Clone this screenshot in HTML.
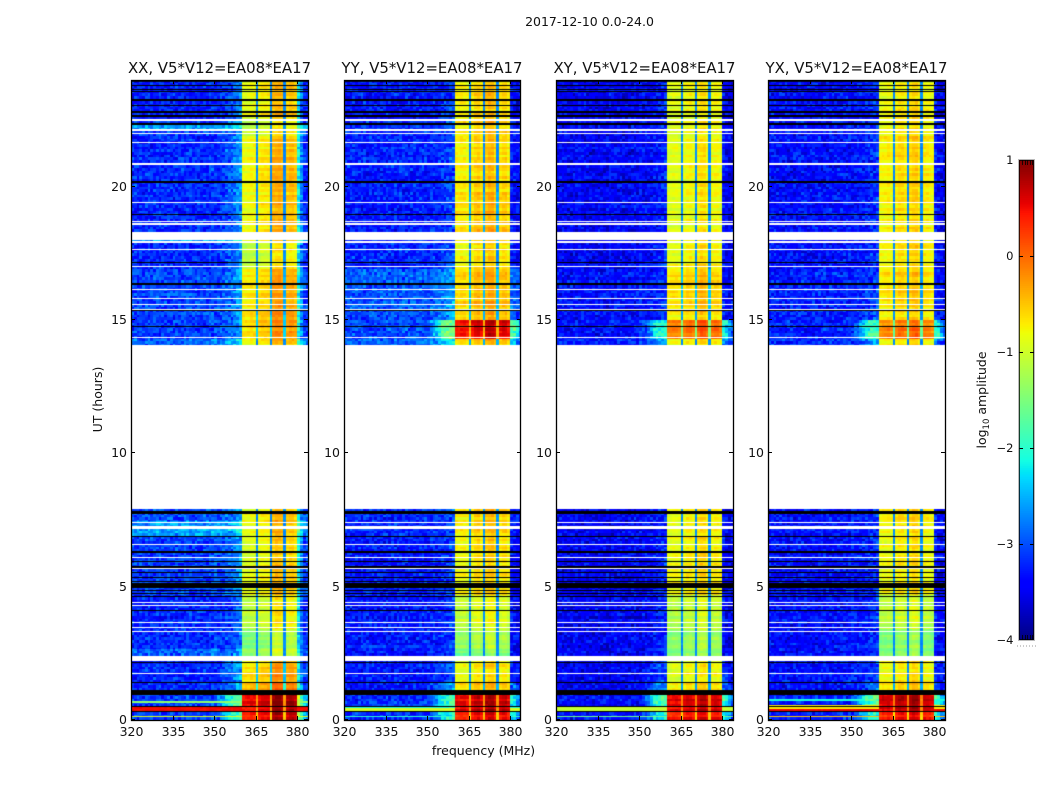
<!DOCTYPE html>
<html lang="en">
<head>
<meta charset="utf-8">
<title>2017-12-10 amplitude waterfall</title>
<style>
html,body{margin:0;padding:0;background:#fff;width:1050px;height:800px;overflow:hidden}
#figure{position:relative;width:1050px;height:800px;background:#fff}
canvas{position:absolute;display:block}
svg{position:absolute;left:0;top:0}
text{font-family:"DejaVu Sans","Liberation Sans",sans-serif;fill:#111}
</style>
</head>
<body>
<div id="figure">
<svg id="overlay" width="1050" height="800"></svg>
</div>
<script>
// ---------- chart data ----------
const panelTitles = ["XX, V5*V12=EA08*EA17","YY, V5*V12=EA08*EA17","XY, V5*V12=EA08*EA17","YX, V5*V12=EA08*EA17"];
const freqTicks = [320,335,350,365,380];
const hourTicks = [0,5,10,15,20];
const colorbarTicks = [1,0,-1,-2,-3,-4];

// log10 amplitude per 1 MHz channel, 320..383 MHz
const baselineXX = [-3.2,-3.2,-3.22,-3.2,-3.2,-3.22,-3.2,-3.2,-3.22,-3.2,-3.2,-3.22,-3.2,-3.2,-3.22,-3.2,-3.2,-3.22,-3.2,-3.2,-3.2,-3.2,-3.2,-3.2,-3.2,-3.18,-3.18,-3.18,-3.18,-3.15,-3.15,-3.15,-3.15,-3.12,-3.1,-3.1,-3.08,-3.0,-2.9,-2.8,-0.85,-0.85,-0.85,-0.8,-0.8,-2.7,-0.75,-0.7,-0.7,-0.7,-2.7,-0.4,-0.35,-0.35,-0.4,-2.7,-0.5,-0.45,-0.45,-0.55,-2.3,-2.9,-3.2,-3.25];
const baselineYY = [-3.3,-3.3,-3.32,-3.3,-3.3,-3.32,-3.3,-3.3,-3.32,-3.3,-3.3,-3.32,-3.3,-3.3,-3.32,-3.3,-3.3,-3.32,-3.3,-3.3,-3.3,-3.3,-3.3,-3.3,-3.3,-3.3,-3.3,-3.28,-3.28,-3.28,-3.28,-3.28,-3.25,-3.25,-3.25,-3.2,-3.2,-3.15,-3.1,-3.05,-0.8,-0.8,-0.75,-0.75,-0.85,-2.7,-0.75,-0.6,-0.55,-0.7,-2.7,-0.55,-0.45,-0.45,-0.6,-2.7,-0.7,-0.6,-0.6,-0.75,-3.35,-3.4,-3.45,-3.45];
const baselineXY = [-3.45,-3.45,-3.47,-3.45,-3.45,-3.47,-3.45,-3.45,-3.47,-3.45,-3.45,-3.47,-3.45,-3.45,-3.47,-3.45,-3.45,-3.47,-3.45,-3.45,-3.45,-3.45,-3.45,-3.45,-3.45,-3.45,-3.45,-3.43,-3.43,-3.43,-3.43,-3.43,-3.4,-3.4,-3.4,-3.35,-3.35,-3.3,-3.25,-3.2,-0.85,-0.85,-0.8,-0.8,-0.85,-2.7,-0.8,-0.7,-0.7,-0.8,-2.7,-0.65,-0.55,-0.55,-0.7,-2.7,-0.75,-0.7,-0.7,-0.8,-3.35,-3.45,-3.5,-3.5];
const baselineYX = [-3.35,-3.35,-3.37,-3.35,-3.35,-3.37,-3.35,-3.35,-3.37,-3.35,-3.35,-3.37,-3.35,-3.35,-3.37,-3.35,-3.35,-3.37,-3.35,-3.35,-3.35,-3.35,-3.35,-3.35,-3.35,-3.35,-3.35,-3.33,-3.33,-3.33,-3.33,-3.33,-3.3,-3.3,-3.3,-3.25,-3.25,-3.2,-3.15,-3.1,-0.8,-0.75,-0.75,-0.7,-0.8,-2.7,-0.7,-0.6,-0.6,-0.7,-2.7,-0.6,-0.5,-0.5,-0.65,-2.7,-0.7,-0.7,-0.75,-0.8,-3.3,-3.4,-3.45,-3.45];
// where the band-edge rise acts, per channel
const edgeShape = [0,0,0,0,0,0,0,0,0,0,0,0,0,0,0,0,0,0,0,0,0,0,0,0,0,0,0,0,0,0,0.1,0.2,0.3,0.5,0.7,0.9,1,1,1,1,0,0,0,0,0,0,0,0,0,0,0,0,0,0,0,0,0,0,0,0,1,1,0.7,0.4];
// narrow notches inside the band
const notchChannels = [45,50,55];

// [startHour, endHour, outOfBandGain, inBandGain, edgeGain]
const gainsXX = [[0,0.3,0.1,1.15,0.9],[0.3,0.95,0.1,1.3,1.1],[1.1,1.4,0,0.35,0.3],[1.4,2.2,0,0.15,0.2],[2.4,2.65,0.3,-0.55,0],[2.65,3.4,0,-0.7,0],[3.4,4.7,0,-0.3,0],[4.7,5.9,0.1,-0.05,0.1],[5.9,6.9,0.1,-0.15,0.1],[6.9,7.45,0.6,-0.05,0],[7.45,7.95,0.2,0,0],[14.05,14.3,0.3,-0.05,0.3],[14.3,15.2,0.1,0.2,0.1],[15.2,16.9,0.15,0.1,0.1],[16.9,17.9,0,-0.3,0.1],[17.9,18.3,0.6,-0.1,0.1],[18.3,19,0,0,0.1],[19,21.9,0,0,0.15],[21.9,22.17,0.1,-0.3,0.1],[22.17,22.31,0.6,-0.3,0.1],[22.31,22.5,0.1,-0.3,0.1],[22.5,24,-0.05,-0.05,0.1]];
const gainsYY = [[0,0.3,0.1,1.15,1.0],[0.3,0.95,0.1,1.3,1.1],[1.1,1.4,0,0.1,0.5],[1.4,2.2,0,-0.1,0.1],[2.4,2.65,0,-0.8,0],[2.65,3.4,0,-0.6,0],[3.4,4.7,0,-0.3,0],[4.7,5.9,0,-0.05,0],[5.9,6.9,0,-0.05,0],[6.9,7.95,0.1,0.05,0],[14.05,14.3,0.4,0.1,0.5],[14.3,15,0.3,1.2,1.3],[15,15.3,0.25,0.1,0.2],[15.3,16.9,0.35,0.15,0.15],[16.9,17.9,0.1,-0.05,0],[17.9,18.3,0.1,0.1,0],[18.3,19.8,0,0.1,0],[19.8,21.9,0.05,0,0],[21.9,22.5,0.1,0.05,0],[22.5,24,0,0,0]];
const gainsXY = [[0,0.3,0.1,1.15,1.0],[0.3,0.95,0.1,1.35,1.3],[1.1,1.4,0,0.05,0.5],[1.4,2.2,0,-0.1,0.2],[2.4,2.65,0,-0.7,0],[2.65,3.4,0,-0.6,0],[3.4,4.7,0,-0.35,0],[4.7,5.9,0,0,0],[5.9,6.9,0,-0.05,0],[6.9,7.95,0,-0.05,0],[14.05,14.3,0.2,0,0.4],[14.3,15,0.1,0.65,1.1],[15,15.3,0.1,0.05,0],[15.3,16.9,0.1,0.15,0],[16.9,17.9,0,-0.05,0],[17.9,18.3,0,-0.05,0],[18.3,19.8,0,-0.1,0],[19.8,21.9,0,-0.1,0],[21.9,22.5,0,-0.1,0],[22.5,24,0,-0.1,0]];
const gainsYX = [[0,0.3,0.1,1.1,1.0],[0.3,0.95,0.1,1.35,1.3],[1.1,1.4,0,0.1,0.3],[1.4,2.2,0,-0.1,0.1],[2.4,2.65,0,-0.8,0],[2.65,3.4,0,-0.75,0],[3.4,4.7,0,-0.4,0],[4.7,5.9,0,-0.1,0],[5.9,6.9,0,-0.1,0],[6.9,7.95,0,-0.05,0],[14.05,14.3,0.2,-0.05,0.4],[14.3,15,0.1,0.55,1.2],[15,15.3,0.1,-0.05,0],[15.3,16.9,0.1,0.05,0],[16.9,17.9,0,-0.05,0],[17.9,18.3,0,-0.05,0],[18.3,19.8,0,-0.05,0],[19.8,21.9,0,0,0],[21.9,22.5,0,-0.05,0],[22.5,24,0,-0.1,0]];

// [startHour, endHour, log10 amplitude] bright interference rows outside the band
const strongRowsXX = [[0.33,0.52,0.5],[0.66,0.72,-1.4],[0.1,0.15,-0.9]];
const strongRowsYY = [[0.3,0.46,-0.95],[0.1,0.15,-2.0],[0.46,0.52,-2.1]];
const strongRowsXY = [[0.3,0.5,-1.05],[0.1,0.16,-1.6]];
const strongRowsYX = [[0.3,0.42,0.5],[0.42,0.56,-0.7],[0.1,0.15,-0.5],[0.72,0.78,-2.1]];

// flagged rows, hours
const whiteRows = [[22.47,22.53],[22.09,22.17],[21.98,22.03],[21.65,21.69],[20.83,20.87],[19.37,19.41],[18.67,18.71],[18.58,18.62],[18.01,18.31],[17.88,17.97],[17.64,17.68],[16.98,17.02],[16.14,16.18],[15.77,15.81],[15.55,15.59],[15.37,15.41],[14.32,14.36],[7.4,7.44],[7.25,7.29],[7.18,7.22],[6.55,6.59],[6.09,6.13],[5.65,5.69],[4.38,4.42],[4.29,4.33],[3.65,3.69],[3.44,3.48],[3.29,3.33],[2.24,2.4],[1.74,1.78],[7.91,14.06]];
const blackRows = [[23.92,23.95],[23.8,23.83],[23.64,23.68],[23.55,23.59],[23.23,23.27],[23.01,23.05],[22.78,22.82],[22.63,22.67],[22.31,22.39],[20.14,20.2],[18.92,18.96],[17.15,17.19],[16.33,16.37],[15.33,15.37],[14.72,14.76],[7.72,7.84],[6.85,6.89],[6.28,6.32],[5.91,5.95],[5.7,5.78],[5.5,5.54],[5.31,5.35],[5.18,5.22],[4.95,5.14],[4.85,4.89],[4.74,4.78],[4.61,4.65],[4.1,4.14],[2.12,2.16],[1.37,1.41],[0.94,1.11],[0.47,0.51],[0.29,0.33]];

// short fixed texture tables for the visible cell grain
const cellGrain = [0.22,-0.28,0.05,0.3,-0.12,-0.34,0.16,0.02,-0.22,0.27,-0.05,0.12,-0.3,0.2,0.08,-0.16,0.33,-0.26,0.0,0.14,-0.2,0.25,-0.09,-0.32,0.18,0.06,-0.14,0.29,-0.24];
const rowGrain = [0.12,-0.1,0.2,-0.05,-0.18,0.08,0.24,-0.14,0.02,0.16,-0.22,0.1,-0.06,0.18,-0.12,0.04,0.22];

const panelBaselines = [baselineXX,baselineYY,baselineXY,baselineYX];
const panelGains = [gainsXX,gainsYY,gainsXY,gainsYX];
const panelStrong = [strongRowsXX,strongRowsYY,strongRowsXY,strongRowsYX];

// ---------- layout and scales ----------
const panelLefts = [131,344,556,768];
const panelWidth = 177, panelTop = 80, panelBottom = 720;
const pxPerMHz = 2.77;
const freqMin = 320, rowHours = 0.05;
const firstInBand = 40, lastInBand = 60;
const NS = "http://www.w3.org/2000/svg";
const overlay = document.getElementById("overlay");
const figure = document.getElementById("figure");
function xScale(left, mhz){ return left + (mhz - freqMin) * pxPerMHz; }
function yScale(hour){ return panelBottom - hour * (panelBottom - panelTop) / 24; }
function amplitudeFraction(v){ return Math.max(0, Math.min(1, (v + 4) / 5)); }
function piece(t, pts){
  for (let i = 1; i < pts.length; i++) {
    if (t <= pts[i][0]) {
      const a = pts[i-1], b = pts[i];
      return a[1] + (b[1]-a[1]) * (t-a[0]) / (b[0]-a[0]);
    }
  }
  return pts[pts.length-1][1];
}
const jetR = [[0,0],[0.35,0],[0.66,1],[0.89,1],[1,0.5]];
const jetG = [[0,0],[0.125,0],[0.375,1],[0.64,1],[0.91,0],[1,0]];
const jetB = [[0,0.5],[0.11,1],[0.34,1],[0.65,0],[1,0]];
function jet(t){
  return "rgb(" + Math.round(255*piece(t,jetR)) + "," + Math.round(255*piece(t,jetG)) + "," + Math.round(255*piece(t,jetB)) + ")";
}
function make(tag, attrs, parent){
  const el = document.createElementNS(NS, tag);
  for (const k in attrs) el.setAttribute(k, attrs[k]);
  (parent || overlay).appendChild(el);
  return el;
}

// ---------- heatmaps ----------
panelTitles.forEach(function(title, p){
  const left = panelLefts[p];
  const cv = document.createElement("canvas");
  
  
  cv.width = panelWidth; cv.height = panelBottom - panelTop;
  cv.style.left = left + "px"; cv.style.top = panelTop + "px";
  figure.insertBefore(cv, overlay);
  const ctx = cv.getContext("2d");
  ctx.fillStyle = "#fff";
  ctx.fillRect(0,0,cv.width,cv.height);
  const base = panelBaselines[p], gains = panelGains[p], strong = panelStrong[p];
  const rows = Math.round(24 / rowHours);
  const n = cellGrain.length;
  for (let r = 0; r < rows; r++) {
    const hour = (r + 0.5) * rowHours;
    const seg = gains.find(function(g){ return hour >= g[0] && hour < g[1]; });
    if (!seg) continue;
    const y0 = Math.round(yScale(r * rowHours + rowHours)) - panelTop;
    const y1 = Math.round(yScale(r * rowHours)) - panelTop;
    const hit = strong.find(function(s){ return hour >= s[0] && hour < s[1]; });
    const rr = Math.floor(r / 2);
    for (let c = 0; c < base.length; c++) {
      const inBand = c >= firstInBand && c < lastInBand;
      const notch = notchChannels.indexOf(c) >= 0;
      const i1 = (c * 17 + rr * 23 + (c * rr % 11) * 5 + p * 7) % n;
      const i2 = (c * c * 3 + rr * rr * 5 + c * rr + p * 3) % n;
      const g = 0.65 * (cellGrain[i1] + cellGrain[i2]);
      const rg = rowGrain[(rr + p * 3) % rowGrain.length];
      let v;
      if (notch) {
        v = base[c] + Math.max(0, seg[3]) * 1.9 + g * 0.2;
      } else if (inBand) {
        v = base[c] + seg[3] + rg * 0.55 + g * 0.25;
      } else {
        v = base[c] + seg[2] + seg[4] * edgeShape[c] + g + rg * 0.15;
      }
      if (hit && !inBand) v = Math.max(v, hit[2] + g * 0.1);
      ctx.fillStyle = jet(amplitudeFraction(v));
      const x0 = Math.round(xScale(0, freqMin + c));
      const x1 = Math.round(xScale(0, freqMin + c + 1));
      ctx.fillRect(x0, y0, x1 - x0, Math.max(1, y1 - y0));
    }
  }
  function flag(list, colour){
    ctx.fillStyle = colour;
    list.forEach(function(f){
      const yt = Math.round(yScale(f[1])) - panelTop;
      const yb = Math.round(yScale(f[0])) - panelTop;
      ctx.fillRect(0, yt, panelWidth, Math.max(1, yb - yt));
    });
  }
  flag(whiteRows, "#fff");
  flag(blackRows, "#000");

  // ---------- frame, ticks, labels ----------
  const frame = make("rect", {x:left+0.5,y:panelTop+0.5,width:panelWidth-(p===1?1:0),height:panelBottom-panelTop,fill:"none",stroke:"#000","stroke-width":1.3});
  
  
  const titleEl = make("text", {x:left+panelWidth/2+(p===1?-0.5:0),y:73,"text-anchor":"middle","font-size":"14.9"});
  titleEl.textContent = title;
  
  
  freqTicks.forEach(function(f){
    const x = Math.round(xScale(left, f)) + 0.5;
    const tb = make("line", {x1:x,x2:x,y1:panelBottom-4,y2:panelBottom,stroke:"#000"});
    
    
    const tt = make("line", {x1:x,x2:x,y1:panelTop,y2:panelTop+4,stroke:"#000"});
    
    
    const lb = make("text", {x:x,y:736,"text-anchor":"middle","font-size":"12.5"});
    lb.textContent = f;
    
    
  });
  hourTicks.forEach(function(h){
    const y = Math.round(yScale(h)) - 0.5;
    const tl = make("line", {x1:left,x2:left+4,y1:y,y2:y,stroke:"#000"});
    
    
    const tr = make("line", {x1:left+panelWidth-4,x2:left+panelWidth,y1:y,y2:y,stroke:"#000"});
    
    
    const lb = make("text", {x:left-4,y:y+4.5,"text-anchor":"end","font-size":"12.5"});
    lb.textContent = h;
    
    
  });
});

// ---------- figure labels ----------
const suptitle = make("text", {x:589.5,y:26,"text-anchor":"middle","font-size":"12.5"});
suptitle.textContent = "2017-12-10 0.0-24.0";


const xTitle = make("text", {x:483.5,y:755,"text-anchor":"middle","font-size":"12.5"});
xTitle.textContent = "frequency (MHz)";


const yTitle = make("text", {x:0,y:0,"text-anchor":"middle","font-size":"12.5",transform:"translate(102,399.5) rotate(-90)"});
yTitle.textContent = "UT (hours)";



// ---------- colorbar ----------
const cbLeft = 1019, cbRight = 1034, cbTop = 160, cbBottom = 640;
function cbY(v){ return cbBottom - (v + 4) / 5 * (cbBottom - cbTop); }
const cbGroup = make("g", {});


for (let i = 0; i < 256; i++) {
  const vLow = -4 + i * 5 / 256, vHigh = -4 + (i + 1) * 5 / 256;
  const seg = make("rect", {x:cbLeft,width:cbRight-cbLeft,y:cbY(vHigh),height:cbY(vLow)-cbY(vHigh)+0.5,fill:jet((i+0.5)/256)}, cbGroup);
  
  
}
const cbOuter = make("rect", {x:cbLeft-0.5,y:cbTop-0.5,width:cbRight-cbLeft+1,height:cbBottom-cbTop+1,fill:"none",stroke:"#bbb"});


const cbInner = make("rect", {x:cbLeft+0.5,y:cbTop+0.5,width:cbRight-cbLeft-1,height:cbBottom-cbTop-1,fill:"none",stroke:"#000","stroke-opacity":0.75});


colorbarTicks.forEach(function(v){
  const y = Math.round(cbY(v));
  if (v > -4 && v < 1) {
    const a = make("line", {x1:cbLeft,x2:cbLeft+4,y1:y+0.5,y2:y+0.5,stroke:"#000"});
    
    
    const b = make("line", {x1:cbRight-4,x2:cbRight,y1:y+0.5,y2:y+0.5,stroke:"#000"});
    
    
  } else {
    for (let x = cbLeft + 3; x < cbRight - 1; x += 2.5) {
      const m = make("line", {x1:Math.round(x)+0.5,x2:Math.round(x)+0.5,y1:v===1?y:y-5,y2:v===1?y+5:y,stroke:"#000","stroke-width":0.8});
      
      
    }
  }
  const lb = make("text", {x:1013.5,y:y+4,"text-anchor":"end","font-size":"11.5"});
  lb.textContent = v < 0 ? "\u2212" + Math.abs(v) : String(v);
  
  
});
for (let x = 1017; x < 1036; x += 3) {
  const d = make("rect", {x:x,y:645.5,width:1,height:1,fill:"#999"});
  
  
}
const cbTitle = make("text", {x:0,y:0,"text-anchor":"middle","font-size":"12.5",transform:"translate(986,400) rotate(-90)"});


const t1 = make("tspan", {}, cbTitle); t1.textContent = "log";
const t2 = make("tspan", {dy:"3","font-size":"8.5"}, cbTitle); t2.textContent = "10";
const t3 = make("tspan", {dy:"-3"}, cbTitle); t3.textContent = " amplitude";
</script>
</body>
</html>
